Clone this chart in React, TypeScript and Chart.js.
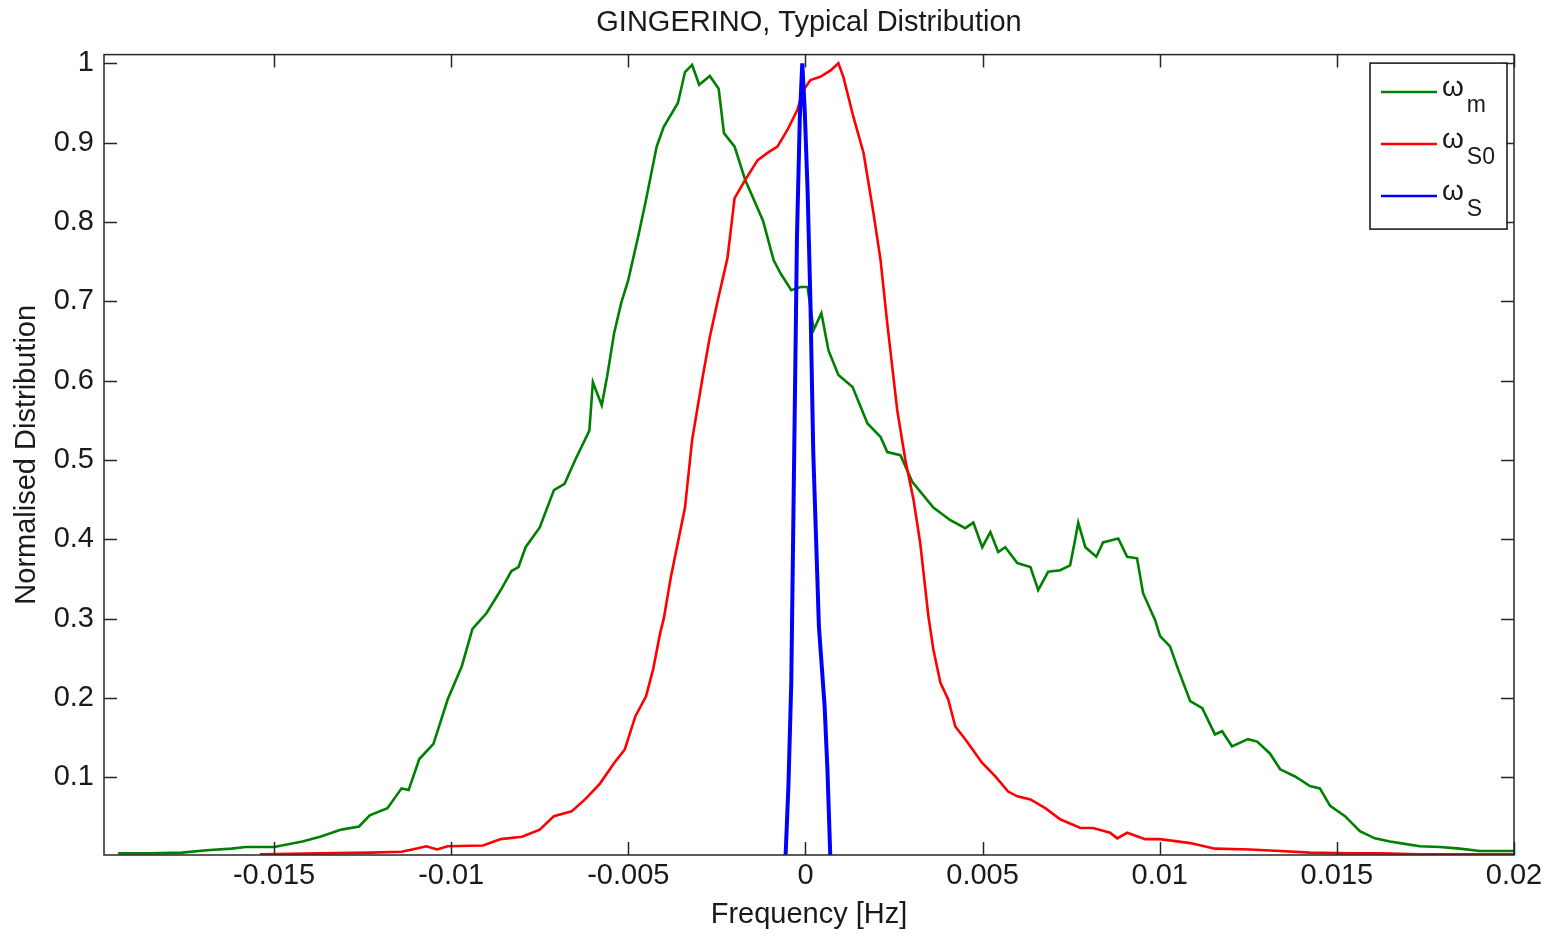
import React, { useEffect, useRef } from "react";
import { Chart, registerables } from "chart.js";

Chart.register(...registerables);

const TITLE = "GINGERINO, Typical Distribution";
const X_LABEL = "Frequency [Hz]";
const Y_LABEL = "Normalised Distribution";

const X_TICKS = [-0.015, -0.01, -0.005, 0, 0.005, 0.01, 0.015, 0.02];
const Y_TICKS = [0.1, 0.2, 0.3, 0.4, 0.5, 0.6, 0.7, 0.8, 0.9, 1];
const X_RANGE = [-0.0198, 0.02];
const Y_RANGE = [0.002, 1.011];

// omega_m (green)
const OMEGA_M_X = [
  -0.0194, -0.0185, -0.0176, -0.0169, -0.0162, -0.0158, -0.015, -0.0142, -0.0137, -0.0131,
  -0.0126, -0.0123, -0.0118, -0.0114, -0.0112, -0.0109, -0.0105, -0.0101, -0.0097, -0.0094,
  -0.009, -0.0086, -0.0083, -0.0081, -0.0079, -0.0075, -0.0071, -0.0068, -0.0065, -0.0061,
  -0.006, -0.00575, -0.0056, -0.0054, -0.0052, -0.005, -0.0047, -0.0045, -0.0042, -0.004,
  -0.0036, -0.0034, -0.0032, -0.003, -0.0027, -0.00245, -0.0023, -0.002, -0.0017, -0.0012,
  -0.0009, -0.0007, -0.0004, -0.00014, 0.00006, 0.00023, 0.00045, 0.00065, 0.00093, 0.00133,
  0.00175, 0.00212, 0.00231, 0.00268, 0.00302, 0.00361, 0.00409, 0.00451, 0.00474, 0.00499,
  0.00522, 0.00544, 0.00564, 0.00598, 0.00635, 0.00657, 0.00685, 0.00719, 0.00747, 0.00761,
  0.0077, 0.0079, 0.00821, 0.0084, 0.00883, 0.00908, 0.00936, 0.00953, 0.00987, 0.01001,
  0.01029, 0.01052, 0.01086, 0.0112, 0.01156, 0.01176, 0.01204, 0.01249, 0.01275, 0.01311,
  0.0134, 0.01382, 0.01424, 0.01452, 0.01481, 0.01523, 0.01565, 0.01607, 0.0165, 0.01692,
  0.01734, 0.01791, 0.01847, 0.01904, 0.02,
];
const OMEGA_M_Y = [
  0.004, 0.004, 0.005, 0.008, 0.01, 0.012, 0.012, 0.019, 0.025, 0.034,
  0.038, 0.052, 0.061, 0.086, 0.084, 0.123, 0.142, 0.198, 0.24, 0.287,
  0.307, 0.336, 0.36, 0.365, 0.39, 0.415, 0.462, 0.47, 0.5, 0.537,
  0.598, 0.569, 0.605, 0.66, 0.698, 0.727, 0.786, 0.828, 0.895, 0.92,
  0.95, 0.989, 0.998, 0.973, 0.984, 0.968, 0.912, 0.895, 0.853, 0.802,
  0.752, 0.735, 0.714, 0.718, 0.718, 0.664, 0.685, 0.638, 0.607, 0.592,
  0.546, 0.529, 0.51, 0.506, 0.472, 0.44, 0.424, 0.414, 0.421, 0.39,
  0.409, 0.384, 0.39, 0.37, 0.365, 0.336, 0.359, 0.361, 0.367, 0.399,
  0.421, 0.39, 0.378, 0.396, 0.401, 0.378, 0.376, 0.332, 0.298, 0.278,
  0.265, 0.236, 0.196, 0.187, 0.154, 0.158, 0.139, 0.148, 0.145, 0.13,
  0.11, 0.101, 0.089, 0.086, 0.064, 0.051, 0.032, 0.023, 0.019, 0.016,
  0.013, 0.012, 0.01, 0.007, 0.007,
];

// omega_S0 (red)
const OMEGA_S0_X = [
  -0.0154, -0.0137, -0.0123, -0.0114, -0.0111, -0.0107, -0.0104, -0.0101, -0.0091, -0.0086,
  -0.008, -0.0075, -0.0071, -0.0066, -0.0062, -0.0058, -0.0054, -0.0051, -0.0048, -0.0045,
  -0.0043, -0.0041, -0.004, -0.0038, -0.0034, -0.0032, -0.0029, -0.0027, -0.00248, -0.0022,
  -0.002, -0.0017, -0.00135, -0.00104, -0.00079, -0.00051, -0.00023, -0.00006, 0.00014, 0.00042,
  0.00071, 0.00093, 0.00107, 0.00135, 0.00164, 0.00192, 0.00212, 0.00231, 0.00259, 0.00282,
  0.00305, 0.00324, 0.00347, 0.00361, 0.00381, 0.00403, 0.00423, 0.00451, 0.00499, 0.00536,
  0.00572, 0.00598, 0.00635, 0.00677, 0.00719, 0.00776, 0.00812, 0.0086, 0.0088, 0.00908,
  0.00959, 0.01001, 0.01086, 0.01156, 0.01255, 0.0134, 0.01424, 0.01537, 0.01622, 0.01734,
  0.01833, 0.02,
];
const OMEGA_S0_Y = [
  0.003, 0.004, 0.005, 0.006, 0.009, 0.013, 0.009, 0.013, 0.014, 0.022,
  0.025, 0.034, 0.051, 0.057, 0.073, 0.092, 0.118, 0.135, 0.177, 0.202,
  0.236, 0.282, 0.3, 0.352, 0.44, 0.525, 0.605, 0.655, 0.7, 0.755,
  0.83, 0.853, 0.878, 0.888, 0.895, 0.916, 0.941, 0.966, 0.979, 0.983,
  0.991, 1.0, 0.983, 0.933, 0.887, 0.811, 0.752, 0.672, 0.563, 0.5,
  0.45, 0.395, 0.303, 0.261, 0.219, 0.198, 0.164, 0.148, 0.118, 0.101,
  0.082, 0.076, 0.072, 0.061, 0.047, 0.036, 0.036, 0.03, 0.023, 0.03,
  0.022, 0.022, 0.017, 0.01, 0.009, 0.007, 0.005, 0.004, 0.004, 0.003,
  0.003, 0.003,
];

// omega_S (blue)
const OMEGA_S_X = [
  -0.00056, -0.00048, -0.0004, -0.00032, -0.00024, -0.00016, -0.00009, -0.00002, 0.00006, 0.00014,
  0.00022, 0.0003, 0.00038, 0.00046, 0.00054, 0.00062, 0.0007,
];
const OMEGA_S_Y = [
  0.002, 0.09, 0.22, 0.5, 0.78, 0.93, 1.0, 0.94, 0.84, 0.7,
  0.51, 0.4, 0.29, 0.24, 0.19, 0.11, 0.002,
];

const SERIES_SUB = ["m", "S0", "S"];
const SERIES_COLORS = ["#008000", "#ff0000", "#0000ff"];

const FONT = "'Liberation Sans', Arial, Helvetica, sans-serif";
const TEXT = "#1a1a1a";

const toPoints = (xs: number[], ys: number[]) => xs.map((x, i) => ({ x, y: ys[i] }));

const framePlugin = {
  id: "matlabFrame",
  afterDatasetsDraw(chart: any) {
    const { ctx, chartArea, scales } = chart;
    const { left, right, top, bottom } = chartArea;
    const xs = scales.x;
    const ys = scales.y;
    ctx.save();
    ctx.strokeStyle = "#262626";
    ctx.lineWidth = 1.5;
    ctx.strokeRect(left, top, right - left, bottom - top);
    const L = 13;
    ctx.beginPath();
    xs.ticks.forEach((t: any) => {
      const px = Math.round(xs.getPixelForValue(t.value)) + 0.5;
      ctx.moveTo(px, bottom);
      ctx.lineTo(px, bottom - L);
      ctx.moveTo(px, top);
      ctx.lineTo(px, top + L);
    });
    ys.ticks.forEach((t: any) => {
      const py = Math.round(ys.getPixelForValue(t.value)) + 0.5;
      ctx.moveTo(left, py);
      ctx.lineTo(left + L, py);
      ctx.moveTo(right, py);
      ctx.lineTo(right - L, py);
    });
    ctx.stroke();
    ctx.restore();
  },
  afterDraw(chart: any) {
    const { ctx, chartArea } = chart;
    const boxRight = chartArea.right - 7;
    const boxTop = chartArea.top + 8.5;
    const boxW = 137;
    const boxH = 166;
    const boxLeft = boxRight - boxW;
    ctx.save();
    ctx.fillStyle = "#ffffff";
    ctx.fillRect(boxLeft, boxTop, boxW, boxH);
    ctx.strokeStyle = "#111";
    ctx.lineWidth = 1.5;
    ctx.strokeRect(boxLeft, boxTop, boxW, boxH);
    chart.data.datasets.forEach((ds: any, i: number) => {
      const rowY = boxTop + 29 + i * 52;
      ctx.strokeStyle = ds.borderColor;
      ctx.lineWidth = 2.5;
      ctx.beginPath();
      ctx.moveTo(boxLeft + 11, rowY);
      ctx.lineTo(boxLeft + 67, rowY);
      ctx.stroke();
      ctx.fillStyle = TEXT;
      ctx.textBaseline = "alphabetic";
      ctx.textAlign = "left";
      ctx.font = `28px ${FONT}`;
      ctx.fillText("\u03c9", boxLeft + 72, rowY + 4);
      const w = ctx.measureText("\u03c9").width;
      ctx.font = `23px ${FONT}`;
      ctx.fillText(ds.sub, boxLeft + 72 + w + 3, rowY + 20);
    });
    ctx.restore();
  },
};

export default function App() {
  const ref = useRef<HTMLCanvasElement | null>(null);

  useEffect(() => {
    document.body.style.margin = "0";
    const canvas = ref.current;
    if (!canvas) return;
    const chart = new Chart(canvas, {
      type: "line",
      data: {
        datasets: [
          {
            label: "\u03c9m",
            sub: SERIES_SUB[0],
            data: toPoints(OMEGA_M_X, OMEGA_M_Y),
            borderColor: SERIES_COLORS[0],
            borderWidth: 2.6,
            pointRadius: 0,
            tension: 0,
            order: 3,
          },
          {
            label: "\u03c9S0",
            sub: SERIES_SUB[1],
            data: toPoints(OMEGA_S0_X, OMEGA_S0_Y),
            borderColor: SERIES_COLORS[1],
            borderWidth: 2.6,
            pointRadius: 0,
            tension: 0,
            order: 2,
          },
          {
            label: "\u03c9S",
            sub: SERIES_SUB[2],
            data: toPoints(OMEGA_S_X, OMEGA_S_Y),
            borderColor: SERIES_COLORS[2],
            borderWidth: 4,
            pointRadius: 0,
            tension: 0,
            order: 1,
          },
        ] as any,
      },
      options: {
        animation: false,
        responsive: false,
        maintainAspectRatio: false,
        layout: { padding: { left: 0, right: 41, top: 0, bottom: 0 } },
        plugins: {
          legend: { display: false },
          tooltip: { enabled: false },
          title: {
            display: true,
            text: TITLE,
            fullSize: false,
            color: TEXT,
            font: { family: FONT, size: 29, weight: "normal" },
            padding: { top: 5.6, bottom: 14.2 },
          },
        },
        scales: {
          x: {
            type: "linear",
            min: X_RANGE[0],
            max: X_RANGE[1],
            afterFit: (s: any) => {
              s.height = 81;
            },
            afterBuildTicks: (s: any) => {
              s.ticks = X_TICKS.map((v) => ({ value: v }));
            },
            ticks: {
              autoSkip: false,
              maxRotation: 0,
              padding: 3.5,
              color: TEXT,
              font: { family: FONT, size: 29 },
              callback: (v: any) => String(Number(Number(v).toFixed(4))),
            },
            grid: { display: false, drawTicks: false },
            border: { display: false },
            title: {
              display: true,
              text: X_LABEL,
              color: TEXT,
              font: { family: FONT, size: 29 },
              padding: { top: 0, bottom: 3.6 },
            },
          },
          y: {
            type: "linear",
            min: Y_RANGE[0],
            max: Y_RANGE[1],
            afterFit: (s: any) => {
              s.width = 104;
            },
            afterBuildTicks: (s: any) => {
              s.ticks = Y_TICKS.map((v) => ({ value: v }));
            },
            ticks: {
              autoSkip: false,
              padding: 10,
              color: TEXT,
              font: { family: FONT, size: 29 },
              callback: (v: any) => String(Number(Number(v).toFixed(2))),
            },
            grid: { display: false, drawTicks: false },
            border: { display: false },
            title: {
              display: true,
              text: Y_LABEL,
              color: TEXT,
              font: { family: FONT, size: 29 },
              padding: { top: 9.6, bottom: 0 },
            },
          },
        },
      } as any,
      plugins: [framePlugin],
    });
    return () => chart.destroy();
  }, []);

  return (
    <div style={{ width: 1555, height: 936, background: "#fff" }}>
      <canvas ref={ref} width={1555} height={936} style={{ display: "block" }} />
    </div>
  );
}
